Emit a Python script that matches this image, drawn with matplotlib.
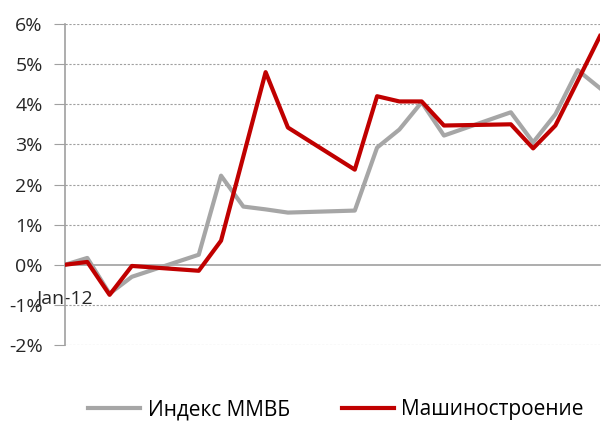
import numpy as np
import pandas as pd
import matplotlib
matplotlib.use("Agg")
import matplotlib.pyplot as plt
from matplotlib.ticker import FuncFormatter

plt.rcParams['font.family'] = ['Open Sans', 'DejaVu Sans']

# trading days, January 2012 (weekends skipped, axis keeps calendar gaps)
dates = pd.to_datetime([
    "2012-01-03", "2012-01-04", "2012-01-05", "2012-01-06",
    "2012-01-09", "2012-01-10", "2012-01-11", "2012-01-12", "2012-01-13",
    "2012-01-16", "2012-01-17", "2012-01-18", "2012-01-19", "2012-01-20",
    "2012-01-23", "2012-01-24", "2012-01-25", "2012-01-26", "2012-01-27",
])
micex = [0.00, 0.17, -0.72, -0.30, 0.25, 2.22, 1.45, 1.38, 1.30,
         1.35, 2.92, 3.37, 4.05, 3.22, 3.80, 3.05, 3.75, 4.85, 4.40]
machinery = [0.00, 0.07, -0.75, -0.03, -0.15, 0.60, 2.70, 4.80, 3.42,
             2.37, 4.20, 4.07, 4.07, 3.47, 3.50, 2.90, 3.47, 4.58, 5.70]
yticks = [-2, -1, 0, 1, 2, 3, 4, 5, 6]

fig = plt.figure(figsize=(6.01, 4.24), dpi=100)
ax = fig.add_axes([65 / 601, 1 - 345 / 424, 535 / 601, 321 / 424])

for y in yticks:
    if y != 0:
        ax.axhline(y, color="#A0A0A0", linewidth=0.8, linestyle=(0, (2, 1.5)), zorder=1)

ax.plot(dates, micex, color="#A6A6A6", linewidth=3, label="Индекс ММВБ", zorder=3)
ax.plot(dates, machinery, color="#C00000", linewidth=3, label="Машиностроение", zorder=4)

ax.set_ylim(-2, 6)
ax.set_xlim(dates[0], dates[-1])
ax.set_yticks(yticks)
ax.yaxis.set_major_formatter(FuncFormatter(lambda v, p: f"{v:.0f}%"))

ax.set_xticks([dates[0]])
ax.set_xticklabels(["Jan-12"])
ax.tick_params(axis="x", length=0, pad=18, labelsize=14, labelcolor="#262626")
ax.tick_params(axis="y", length=8, width=0.8, color="#A0A0A0", pad=8,
               labelsize=14, labelcolor="#262626")

for s in ["top", "right"]:
    ax.spines[s].set_visible(False)
ax.spines["bottom"].set_position(("data", 0))
ax.spines["bottom"].set_color("#A0A0A0")
ax.spines["bottom"].set_linewidth(1.2)
ax.spines["bottom"].set_zorder(2)
ax.spines["left"].set_color("#A0A0A0")
ax.spines["left"].set_linewidth(1.2)

fig.legend(loc="center", bbox_to_anchor=(336 / 601, 1 - 410 / 424), ncol=2,
           frameon=False, fontsize=15, handlelength=2.5, handletextpad=0.35,
           columnspacing=2.5)

fig.savefig("out.png", dpi=100)
